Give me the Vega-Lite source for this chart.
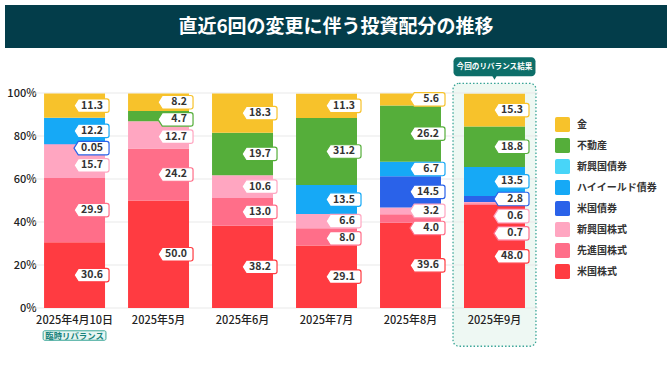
{
  "$schema": "https://vega.github.io/schema/vega-lite/v6.json",
  "background": "white",
  "padding": 5,
  "spacing": 9,
  "config": {
    "font": "Noto Sans CJK JP",
    "view": {"stroke": null},
    "axis": {"labelFont": "Noto Sans CJK JP"},
    "legend": {"labelFont": "Noto Sans CJK JP"}
  },
  "vconcat": [
    {
      "width": 662,
      "height": 43,
      "view": {"fill": "#033D4A", "stroke": null},
      "data": {"values": [{"t": "直近6回の変更に伴う投資配分の推移"}]},
      "mark": {"type": "text", "color": "white", "fontSize": 19, "fontWeight": "bold", "baseline": "middle", "align": "center"},
      "encoding": {"text": {"field": "t", "type": "nominal"}}
    },
    {
      "width": 533,
      "height": 215,
      "layer": [
        {
          "data": {"values": [{}]},
          "mark": {"type": "bar", "width": {"band": 1.36}, "fill": "#eef8f3", "stroke": "#3aa597", "strokeDash": [1.5, 2], "strokeWidth": 1.3, "cornerRadius": 6},
          "encoding": {
            "x": {
              "datum": "2025年9月",
              "type": "nominal",
              "scale": {"domain": ["2025年4月10日", "2025年5月", "2025年6月", "2025年7月", "2025年8月", "2025年9月"], "paddingInner": 0.274, "paddingOuter": 0.31, "align": 0.75},
              "axis": {"title": null, "labelAngle": 0, "ticks": false, "domain": false, "bandPosition": 0.5, "labelFontSize": 11, "labelFontWeight": 500, "labelColor": "#222", "labelPadding": 6, "zindex": 1}
            },
            "y": {"datum": 104.5, "type": "quantitative", "scale": {"domain": [0, 100], "nice": false}},
            "y2": {"datum": -17.8}
          }
        },
        {
          "data": {"values": [{"g": 0}, {"g": 20}, {"g": 40}, {"g": 60}, {"g": 80}, {"g": 100}]},
          "mark": {"type": "rule", "color": "#e9e9e9", "strokeWidth": 1},
          "encoding": {
            "x": {"datum": "2025年4月10日", "type": "nominal", "bandPosition": -0.148, "axis": {"bandPosition": 0.5}},
            "x2": {"datum": "2025年9月", "bandPosition": 1.213},
            "y": {"field": "g", "type": "quantitative"}
          }
        },
        {
          "data": {"values": [{}]},
          "mark": {"type": "bar", "width": {"band": 1.344}, "fill": "#0D6E69", "cornerRadius": 4},
          "encoding": {
            "x": {"datum": "2025年9月", "type": "nominal", "axis": {"bandPosition": 0.5}},
            "y": {"datum": 116.6, "type": "quantitative"},
            "y2": {"datum": 107.8}
          }
        },
        {
          "data": {"values": [{}]},
          "mark": {"type": "point", "shape": "triangle-down", "size": 30, "filled": true, "fill": "#0D6E69", "opacity": 1, "strokeWidth": 0},
          "encoding": {
            "x": {"datum": "2025年9月", "type": "nominal", "axis": {"bandPosition": 0.5}},
            "y": {"datum": 107.3, "type": "quantitative"}
          }
        },
        {
          "data": {"values": [{}]},
          "mark": {"type": "text", "text": "今回のリバランス結果", "color": "white", "fontSize": 7.6, "fontWeight": "bold", "baseline": "middle", "align": "center"},
          "encoding": {
            "x": {"datum": "2025年9月", "type": "nominal", "axis": {"bandPosition": 0.5}},
            "y": {"datum": 112.2, "type": "quantitative"}
          }
        },
        {
          "data": {"values": [{}]},
          "mark": {"type": "bar", "width": {"band": 1.03}, "fill": "#e6f5f2", "stroke": "#3aa597", "strokeWidth": 1, "cornerRadius": 1.5},
          "encoding": {
            "x": {"datum": "2025年4月10日", "type": "nominal", "axis": {"bandPosition": 0.5}},
            "y": {"datum": -10.6, "type": "quantitative"},
            "y2": {"datum": -15.0}
          }
        },
        {
          "data": {"values": [{}]},
          "mark": {"type": "text", "text": "臨時リバランス", "color": "#17827a", "fontSize": 8.4, "fontWeight": "bold", "baseline": "middle", "align": "center"},
          "encoding": {
            "x": {"datum": "2025年4月10日", "type": "nominal", "axis": {"bandPosition": 0.5}},
            "y": {"datum": -12.8, "type": "quantitative"}
          }
        },
        {
          "data": {
            "values": [
              {"period": "2025年4月10日", "asset": "米国株式", "value": 30.6},
              {"period": "2025年4月10日", "asset": "先進国株式", "value": 29.9},
              {"period": "2025年4月10日", "asset": "新興国株式", "value": 15.7},
              {"period": "2025年4月10日", "asset": "米国債券", "value": 0.05},
              {"period": "2025年4月10日", "asset": "ハイイールド債券", "value": 12.2},
              {"period": "2025年4月10日", "asset": "金", "value": 11.3},
              {"period": "2025年5月", "asset": "米国株式", "value": 50.0},
              {"period": "2025年5月", "asset": "先進国株式", "value": 24.2},
              {"period": "2025年5月", "asset": "新興国株式", "value": 12.7},
              {"period": "2025年5月", "asset": "不動産", "value": 4.7},
              {"period": "2025年5月", "asset": "金", "value": 8.2},
              {"period": "2025年6月", "asset": "米国株式", "value": 38.2},
              {"period": "2025年6月", "asset": "先進国株式", "value": 13.0},
              {"period": "2025年6月", "asset": "新興国株式", "value": 10.6},
              {"period": "2025年6月", "asset": "不動産", "value": 19.7},
              {"period": "2025年6月", "asset": "金", "value": 18.3},
              {"period": "2025年7月", "asset": "米国株式", "value": 29.1},
              {"period": "2025年7月", "asset": "先進国株式", "value": 8.0},
              {"period": "2025年7月", "asset": "新興国株式", "value": 6.6},
              {"period": "2025年7月", "asset": "ハイイールド債券", "value": 13.5},
              {"period": "2025年7月", "asset": "不動産", "value": 31.2},
              {"period": "2025年7月", "asset": "金", "value": 11.3},
              {"period": "2025年8月", "asset": "米国株式", "value": 39.6},
              {"period": "2025年8月", "asset": "先進国株式", "value": 4.0},
              {"period": "2025年8月", "asset": "新興国株式", "value": 3.2},
              {"period": "2025年8月", "asset": "米国債券", "value": 14.5},
              {"period": "2025年8月", "asset": "ハイイールド債券", "value": 6.7},
              {"period": "2025年8月", "asset": "不動産", "value": 26.2},
              {"period": "2025年8月", "asset": "金", "value": 5.6},
              {"period": "2025年9月", "asset": "米国株式", "value": 48.0},
              {"period": "2025年9月", "asset": "先進国株式", "value": 0.7},
              {"period": "2025年9月", "asset": "新興国株式", "value": 0.6},
              {"period": "2025年9月", "asset": "米国債券", "value": 2.8},
              {"period": "2025年9月", "asset": "ハイイールド債券", "value": 13.5},
              {"period": "2025年9月", "asset": "不動産", "value": 18.8},
              {"period": "2025年9月", "asset": "金", "value": 15.3}
            ]
          },
          "transform": [
            {"calculate": "7 - indexof(['金','不動産','新興国債券','ハイイールド債券','米国債券','新興国株式','先進国株式','米国株式'], datum.asset)", "as": "ord"},
            {"stack": "value", "groupby": ["period"], "sort": [{"field": "ord", "order": "ascending"}], "as": ["v0", "v1"]},
            {"calculate": "(datum.v0 + datum.v1) / 2", "as": "mid"},
            {"window": [{"op": "row_number", "as": "rn"}], "groupby": ["period"], "sort": [{"field": "ord", "order": "descending"}]},
            {"calculate": "datum.mid + datum.rn * 8", "as": "k"},
            {"window": [{"op": "min", "field": "k", "as": "cm"}], "groupby": ["period"], "sort": [{"field": "ord", "order": "descending"}], "frame": [null, 0]},
            {"calculate": "datum.cm - datum.rn * 8", "as": "pos"},
            {"calculate": "datum.value < 0.1 ? format(datum.value, '.2f') : format(datum.value, '.1f')", "as": "label"}
          ],
          "layer": [
            {
              "mark": {"type": "bar", "width": {"band": 1}},
              "encoding": {
                "x": {
                  "field": "period",
                  "type": "nominal",
                  "axis": {"bandPosition": 0.5}
                },
                "y": {
                  "field": "v0",
                  "type": "quantitative",
                  "scale": {"domain": [0, 100], "nice": false},
                  "axis": {"title": null, "grid": false, "values": [0, 20, 40, 60, 80, 100], "labelExpr": "datum.value + '%'", "ticks": false, "tickSize": 0, "domain": false, "labelFontSize": 11, "labelFontWeight": 500, "labelColor": "#222", "labelPadding": -31, "labelAlign": "right"}
                },
                "y2": {"field": "v1"},
                "color": {
                  "field": "asset",
                  "type": "nominal",
                  "scale": {
                    "domain": ["金", "不動産", "新興国債券", "ハイイールド債券", "米国債券", "新興国株式", "先進国株式", "米国株式"],
                    "range": ["#F7C22B", "#55AE3A", "#48D5F8", "#16A9F6", "#2A62E9", "#FFA6C1", "#FF6E89", "#FF3B41"]
                  },
                  "legend": {
                    "orient": "none",
                    "legendX": 550,
                    "legendY": 112,
                    "title": null,
                    "symbolType": "M-0.75,-1H0.75Q1,-1 1,-0.75V0.75Q1,1 0.75,1H-0.75Q-1,1 -1,0.75V-0.75Q-1,-1 -0.75,-1Z",
                    "symbolSize": 225,
                    "symbolStrokeWidth": 0,
                    "symbolOpacity": 1,
                    "rowPadding": 6,
                    "labelFontSize": 10,
                    "labelFontWeight": "bold",
                    "labelColor": "#333",
                    "labelOffset": 7
                  }
                }
              }
            },
            {
              "mark": {"type": "point", "shape": "M-0.07,0L0.5,-0.9H4.3Q4.6,-0.9 4.6,-0.6V0.6Q4.6,0.9 4.3,0.9H0.5Z", "size": 225, "filled": true, "fill": "white", "strokeWidth": 1.2, "opacity": 1},
              "encoding": {
                "x": {"field": "period", "type": "nominal", "axis": {"bandPosition": 0.5}},
                "y": {"field": "pos", "type": "quantitative"},
                "stroke": {
                  "field": "asset",
                  "type": "nominal",
                  "scale": {
                    "domain": ["金", "不動産", "新興国債券", "ハイイールド債券", "米国債券", "新興国株式", "先進国株式", "米国株式"],
                    "range": ["#F7C22B", "#55AE3A", "#48D5F8", "#16A9F6", "#2A62E9", "#FFA6C1", "#FF6E89", "#FF3B41"]
                  },
                  "legend": null
                }
              }
            },
            {
              "mark": {"type": "text", "align": "right", "baseline": "middle", "dx": 28.5, "fontSize": 10.5, "fontWeight": "bold", "color": "#333"},
              "encoding": {
                "x": {"field": "period", "type": "nominal", "axis": {"bandPosition": 0.5}},
                "y": {"field": "pos", "type": "quantitative"},
                "text": {"field": "label", "type": "nominal"}
              }
            }
          ]
        }
      ]
    }
  ]
}
